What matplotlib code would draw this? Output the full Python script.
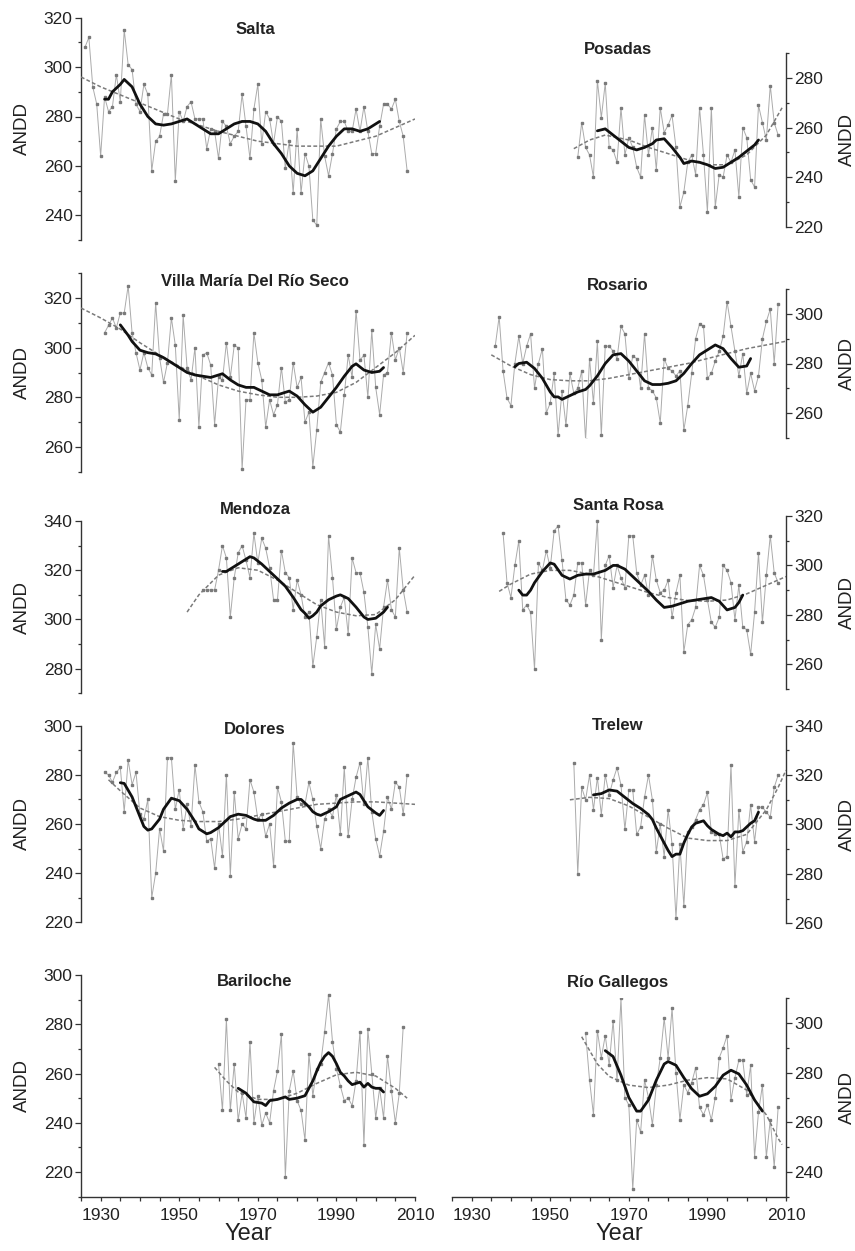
import matplotlib
matplotlib.use("Agg")
from matplotlib import pyplot as plt
from matplotlib.ticker import MultipleLocator

plt.rcParams['font.family'] = ['Liberation Sans', 'DejaVu Sans']

# ---- annual ANDD values (first year + consecutive values) ----
salta_start = 1926
salta_vals = [308, 312, 292, 285, 264, 288, 282, 284, 297, 286, 315, 301, 299, 285, 282, 293, 289, 258, 270, 272,
              281, 281, 297, 254, 282, 278, 284, 286, 279, 279, 279, 267, 275, 274, 263, 278, 276, 269, 272, 274,
              289, 276, 263, 283, 293, 269, 282, 279, 269, 280, 278, 259, 270, 249, 275, 249, 265, 260, 238, 236,
              279, 264, 256, 265, 275, 278, 278, 274, 274, 283, 274, 284, 274, 265, 265, 276, 285, 285, 283, 287,
              278, 272, 258]
salta_smooth_x = [1931, 1932, 1933, 1935, 1936, 1938, 1940, 1942, 1944, 1946, 1948, 1950, 1952, 1954, 1956, 1958,
                  1960, 1962, 1964, 1966, 1968, 1970, 1972, 1974, 1976, 1978, 1980, 1982, 1984, 1986, 1988, 1990,
                  1992, 1994, 1996, 1998, 2000, 2001]
salta_smooth_y = [287, 287, 290, 293, 295, 292, 285, 280, 277, 276.5, 277, 278, 279, 277, 275, 273,
                  273, 275, 277, 278, 278, 277, 274, 269, 265, 260, 257, 256, 258, 263, 268, 272,
                  275, 275, 274, 275, 277, 278]
salta_trend_x = [1925, 1930, 1940, 1950, 1960, 1970, 1980, 1990, 2000, 2010]
salta_trend_y = [296, 292, 285.5, 279, 274, 270, 268, 268, 272, 279]

posadas_start = 1957
posadas_vals = [248, 262, 252, 249, 240, 279, 264, 278, 252, 251, 246, 268, 249, 256, 252, 244, 240, 265, 249, 260,
                243, 268, 258, 261, 265, 252, 228, 234, 246, 249, 241, 268, 249, 226, 268, 228, 241, 240, 249, 246,
                251, 232, 260, 256, 239, 236, 269, 262, 255, 277, 262, 257]
posadas_smooth_x = [1962, 1964, 1966, 1968, 1970, 1972, 1974, 1976, 1977, 1979, 1981, 1983, 1984, 1986, 1988,
                    1990, 1992, 1994, 1996, 1998, 2000, 2002, 2003]
posadas_smooth_y = [258.7, 259.5, 257, 254.5, 252, 251, 252, 253.5, 255, 255.5, 252, 248, 245.5, 246.5, 246,
                    245, 243.5, 244, 246, 248, 250.5, 253, 255]
posadas_trend_x = [1956, 1960, 1964, 1970, 1975, 1980, 1985, 1990, 1995, 2000, 2005, 2009]
posadas_trend_y = [251.5, 255, 257, 255, 252, 249.5, 247, 245, 245, 249, 257, 268]

villa_start = 1931
villa_vals = [306, 309, 312, 308, 314, 314, 325, 306, 298, 291, 298, 292, 289, 318, 296, 286, 294, 312, 301, 271,
              313, 292, 287, 300, 268, 297, 298, 293, 269, 288, 287, 302, 288, 301, 300, 251, 279, 279, 306, 294,
              287, 268, 279, 273, 277, 292, 278, 279, 294, 284, 288, 270, 274, 252, 267, 286, 290, 294, 289, 269,
              266, 281, 297, 288, 315, 295, 297, 280, 307, 284, 273, 289, 290, 306, 295, 300, 290, 306]
villa_smooth_x = [1935, 1937, 1938, 1940, 1942, 1944, 1946, 1948, 1950, 1952, 1954, 1956, 1958, 1960, 1961,
                  1963, 1965, 1967, 1969, 1971, 1973, 1975, 1977, 1978, 1980, 1982, 1984, 1986, 1988, 1990,
                  1992, 1994, 1995, 1997, 1999, 2001, 2002]
villa_smooth_y = [309.2, 305, 302.5, 299, 298, 297.5, 296, 294, 292, 290, 289, 288.5, 288, 289, 289.5,
                  287, 285, 284, 284, 282.5, 281, 281, 282, 282.5, 280.5, 277, 274, 276, 280, 284,
                  288.5, 292.5, 293.5, 291, 290, 290.5, 292]
villa_trend_x = [1925, 1930, 1935, 1940, 1945, 1950, 1955, 1960, 1965, 1970, 1975, 1980, 1985, 1990, 1995, 2000,
                 2005, 2010]
villa_trend_y = [316, 312, 307.5, 302, 297, 292.5, 288.5, 285, 282.5, 281, 280, 280, 280.5, 282, 286, 292, 298, 305]

rosario_start = 1936
rosario_vals = [287, 299, 277, 266, 263, 280, 291, 280, 287, 292, 270, 280, 286, 260, 264, 276, 251, 269, 255, 276,
                268, 270, 277, 249, 282, 264, 289, 251, 287, 287, 285, 282, 295, 292, 274, 283, 282, 270, 292, 270,
                269, 266, 256, 282, 278, 277, 275, 277, 253, 263, 276, 290, 296, 295, 274, 276, 281, 285, 291, 305,
                295, 285, 275, 284, 268, 276, 269, 275, 290, 297, 302, 280, 304]
rosario_smooth_x = [1941, 1942, 1944, 1946, 1948, 1950, 1951, 1952, 1953, 1955, 1957, 1959, 1960, 1962, 1964,
                    1966, 1968, 1970, 1972, 1974, 1976, 1978, 1980, 1982, 1984, 1986, 1988, 1990, 1992, 1994,
                    1996, 1998, 2000, 2001]
rosario_smooth_y = [278.7, 280, 280.5, 278, 274, 268.5, 266.5, 266.5, 265.5, 267, 268.5, 269.5, 271, 275, 280,
                    283.5, 284, 281, 277, 273, 271.5, 271.5, 272, 273, 276, 280, 283.5, 285.5, 287.5, 286,
                    282, 278.5, 279, 282]
rosario_trend_x = [1935, 1940, 1945, 1950, 1955, 1960, 1965, 1970, 1975, 1980, 1985, 1990, 1995, 2000, 2005, 2010]
rosario_trend_y = [283.5, 279, 275.5, 273.5, 273, 273, 274, 275.5, 277, 278.5, 280, 282, 284, 286, 287.5, 289]

mendoza_start = 1956
mendoza_vals = [312, 312, 312, 312, 320, 330, 325, 301, 317, 327, 330, 324, 317, 335, 323, 333, 329, 321, 308, 308,
                328, 319, 317, 304, 316, 310, 301, 303, 281, 293, 308, 289, 334, 317, 296, 305, 309, 294, 325, 319,
                319, 311, 297, 278, 298, 288, 305, 316, 304, 301, 329, 312, 303]
mendoza_smooth_x = [1961, 1962, 1964, 1966, 1968, 1969, 1971, 1973, 1975, 1977, 1979, 1981, 1982, 1983, 1984,
                    1985, 1986, 1988, 1990, 1991, 1993, 1995, 1997, 1998, 2000, 2002, 2003]
mendoza_smooth_y = [319.5, 319.5, 321.5, 323.5, 325.5, 325, 322.5, 319.5, 316.5, 313.5, 309, 304, 302.5, 300.5,
                    301.5, 303, 305.5, 308, 309.5, 310, 308.5, 305, 301, 300, 300.5, 303, 305]
mendoza_trend_x = [1952, 1955, 1960, 1965, 1970, 1975, 1980, 1985, 1990, 1995, 2000, 2005, 2010]
mendoza_trend_y = [303, 310, 318, 321, 320, 316, 311, 306, 303, 301.5, 302, 308, 318]

santarosa_start = 1938
santarosa_vals = [313, 293, 287, 300, 310, 282, 284, 281, 258, 301, 298, 306, 299, 314, 316, 302, 286, 284, 288, 301,
                  301, 284, 298, 296, 318, 270, 300, 304, 291, 300, 295, 291, 312, 312, 297, 292, 296, 288, 304, 294,
                  289, 290, 294, 279, 289, 296, 265, 276, 278, 283, 300, 296, 286, 277, 275, 279, 300, 298, 293, 278,
                  292, 275, 274, 264, 281, 305, 277, 296, 312, 297, 293]
santarosa_smooth_x = [1942, 1943, 1944, 1945, 1946, 1948, 1950, 1951, 1953, 1955, 1957, 1959, 1961, 1963, 1964,
                      1966, 1967, 1969, 1971, 1973, 1975, 1977, 1979, 1981, 1983, 1985, 1987, 1989, 1991, 1993,
                      1995, 1997, 1998, 1999]
santarosa_smooth_y = [290, 288, 288, 290, 293, 297.5, 301, 300.5, 296, 294.5, 296, 296.5, 296.5, 297.5, 298,
                      300, 300, 298.5, 295.5, 292.5, 289.5, 286, 283, 283.5, 284.5, 285.5, 286, 286.5, 287, 285.5,
                      282, 283, 285, 288]
santarosa_trend_x = [1937, 1940, 1945, 1950, 1955, 1960, 1965, 1970, 1975, 1980, 1985, 1990, 1995, 2000, 2005, 2010]
santarosa_trend_y = [289.5, 292.5, 296.5, 298, 298, 296.5, 294, 291.5, 289, 287, 285.8, 285.5, 286, 288.5, 292, 295.5]

dolores_start = 1931
dolores_vals = [281, 280, 277, 281, 283, 265, 286, 276, 281, 264, 262, 270, 230, 240, 258, 249, 287, 287, 266, 274,
                258, 268, 259, 284, 269, 265, 253, 254, 242, 260, 247, 280, 239, 273, 254, 260, 258, 278, 273, 262,
                264, 255, 260, 243, 275, 269, 253, 253, 293, 271, 268, 268, 277, 270, 259, 250, 262, 266, 263, 272,
                256, 283, 255, 270, 279, 285, 268, 287, 265, 254, 247, 257, 271, 266, 277, 275, 264, 280]
dolores_smooth_x = [1935, 1936, 1938, 1940, 1941, 1942, 1943, 1944, 1945, 1946, 1948, 1949, 1950, 1952, 1954,
                    1955, 1956, 1957, 1958, 1959, 1960, 1961, 1962, 1963, 1965, 1967, 1969, 1970, 1972, 1974,
                    1976, 1978, 1980, 1981, 1983, 1984, 1985, 1986, 1988, 1990, 1991, 1993, 1995, 1996, 1998,
                    2000, 2001, 2002]
dolores_smooth_y = [276.8, 276.5, 271, 263, 259, 257.5, 258, 260, 262, 266, 270.5, 270, 269.5, 266, 261,
                    258, 257, 256, 256.5, 257.5, 258.5, 260, 261.5, 263, 264, 263.5, 262, 261.5, 261.5, 263.5,
                    266.5, 268.5, 270, 270, 267, 265, 264, 263.5, 265, 267, 270, 271.5, 273, 272, 267,
                    264.5, 263.5, 265.5]
dolores_trend_x = [1932, 1935, 1940, 1945, 1950, 1955, 1960, 1965, 1970, 1975, 1980, 1985, 1990, 1995, 2000, 2005,
                   2010]
dolores_trend_y = [278, 273.5, 266.5, 263, 261.5, 261, 261, 262, 263.5, 265, 266.5, 268, 268.5, 269, 269, 268.5, 268]

trelew_start = 1956
trelew_vals = [325, 280, 315, 310, 320, 306, 319, 304, 320, 312, 318, 323, 316, 298, 314, 314, 296, 299, 311, 320,
               310, 289, 300, 287, 306, 292, 262, 292, 267, 297, 299, 302, 306, 308, 313, 297, 296, 296, 286, 287,
               324, 275, 306, 289, 293, 308, 293, 307, 307, 305, 303, 315, 320]
trelew_smooth_x = [1961, 1963, 1965, 1967, 1969, 1971, 1973, 1975, 1976, 1977, 1978, 1979, 1980, 1981, 1982,
                   1983, 1984, 1985, 1986, 1987, 1988, 1989, 1990, 1991, 1992, 1993, 1994, 1995, 1996, 1997,
                   1998, 1999, 2000, 2001, 2002, 2003]
trelew_smooth_y = [312, 312.5, 314, 313.5, 311, 308.5, 306.5, 304, 302, 298.5, 295.5, 292.5, 289.5, 287, 288,
                   288, 292.5, 296, 299, 300.5, 301, 301.5, 299.5, 298, 297, 296, 295.5, 296.5, 295, 297,
                   297, 297.5, 299, 300.5, 301.5, 305]
trelew_trend_x = [1955, 1960, 1965, 1970, 1975, 1980, 1985, 1990, 1995, 2000, 2005, 2008, 2010]
trelew_trend_y = [310, 311, 310.5, 307.5, 303, 298.5, 294.5, 293.5, 293.5, 296, 306, 315, 322]

bariloche_start = 1960
bariloche_vals = [264, 245, 282, 245, 264, 241, 252, 242, 273, 240, 251, 239, 244, 240, 253, 261, 276, 218, 253, 261,
                  249, 245, 233, 268, 251, 262, 264, 277, 292, 273, 262, 255, 249, 250, 247, 257, 277, 231, 278, 260,
                  242, 254, 242, 267, 253, 240, 252, 279]
bariloche_smooth_x = [1965, 1967, 1969, 1971, 1972, 1973, 1975, 1977, 1978, 1980, 1981, 1982, 1983, 1984, 1985,
                      1986, 1987, 1988, 1989, 1990, 1991, 1992, 1993, 1994, 1995, 1996, 1997, 1998, 1999, 2000,
                      2001, 2002]
bariloche_smooth_y = [254, 252, 248.5, 248, 247, 249, 249.5, 250.5, 249.5, 250, 250.5, 251, 254, 257, 261,
                      264.5, 267, 268.5, 267, 264, 260.5, 259, 257, 255.5, 256, 256.5, 254.5, 256, 254.5, 254,
                      254, 252.5]
bariloche_trend_x = [1959, 1962, 1965, 1970, 1975, 1980, 1985, 1990, 1995, 2000, 2005, 2008]
bariloche_trend_y = [262.5, 257, 252.5, 249.5, 249.5, 252, 256, 259.5, 260.5, 259, 254, 250]

gallegos_start = 1959
gallegos_vals = [296, 277, 263, 297, 286, 295, 283, 301, 277, 310, 270, 267, 233, 261, 256, 277, 270, 259, 275, 286,
                 302, 286, 306, 280, 261, 275, 272, 276, 282, 266, 263, 267, 261, 270, 286, 290, 295, 269, 278, 285,
                 285, 271, 283, 246, 264, 275, 246, 261, 242, 266]
gallegos_smooth_x = [1964, 1966, 1968, 1970, 1972, 1973, 1975, 1977, 1979, 1980, 1982, 1984, 1986, 1988, 1990,
                     1992, 1994, 1996, 1998, 2000, 2002, 2004]
gallegos_smooth_y = [288.9, 286.5, 279, 270, 264.5, 264.5, 269, 277, 283.5, 284.5, 283, 278, 273.5, 270.5, 271.5,
                     274.5, 279, 281, 279.5, 275, 269, 264.5]
gallegos_trend_x = [1958, 1960, 1962, 1965, 1970, 1975, 1980, 1985, 1990, 1995, 2000, 2005, 2008, 2009]
gallegos_trend_y = [294.5, 289, 283.5, 278.5, 275, 274, 275, 277, 278, 277.5, 273, 263, 253.5, 251]

stations = [
    ("Salta", salta_start, salta_vals, salta_smooth_x, salta_smooth_y, salta_trend_x, salta_trend_y),
    ("Posadas", posadas_start, posadas_vals, posadas_smooth_x, posadas_smooth_y, posadas_trend_x, posadas_trend_y),
    ("Villa María Del Río Seco", villa_start, villa_vals, villa_smooth_x, villa_smooth_y, villa_trend_x, villa_trend_y),
    ("Rosario", rosario_start, rosario_vals, rosario_smooth_x, rosario_smooth_y, rosario_trend_x, rosario_trend_y),
    ("Mendoza", mendoza_start, mendoza_vals, mendoza_smooth_x, mendoza_smooth_y, mendoza_trend_x, mendoza_trend_y),
    ("Santa Rosa", santarosa_start, santarosa_vals, santarosa_smooth_x, santarosa_smooth_y,
     santarosa_trend_x, santarosa_trend_y),
    ("Dolores", dolores_start, dolores_vals, dolores_smooth_x, dolores_smooth_y, dolores_trend_x, dolores_trend_y),
    ("Trelew", trelew_start, trelew_vals, trelew_smooth_x, trelew_smooth_y, trelew_trend_x, trelew_trend_y),
    ("Bariloche", bariloche_start, bariloche_vals, bariloche_smooth_x, bariloche_smooth_y,
     bariloche_trend_x, bariloche_trend_y),
    ("Río Gallegos", gallegos_start, gallegos_vals, gallegos_smooth_x, gallegos_smooth_y,
     gallegos_trend_x, gallegos_trend_y),
]

# ---- layout (pixels, top-left origin) ----
W, H = 855, 1251
# (ytop, ybottom, ymin, ymax, first labelled tick, last labelled tick, title y)
layout = [
    (17.7, 240.0, 230, 320, 240, 320, 29),
    (53.3, 226.7, 220, 290, 220, 280, 50),
    (273.3, 471.7, 250, 330, 260, 320, 282),
    (289.3, 437.7, 250, 310, 260, 300, 285),
    (521.0, 693.3, 270, 340, 280, 340, 510),
    (516.0, 689.0, 250, 320, 260, 320, 505),
    (725.7, 922.3, 220, 300, 220, 300, 729),
    (725.7, 923.3, 260, 340, 260, 340, 726),
    (975.0, 1196.7, 210, 300, 220, 300, 982),
    (998.3, 1196.7, 230, 310, 240, 300, 982),
]
col_x = [(81, 415), (452, 786)]
title_x = [255, 618]

fig = plt.figure(figsize=(W / 100, H / 100), dpi=100)
txt = '#222222'

for i, (name, start, vals, sx, sy, tx, ty) in enumerate(stations):
    col = i % 2
    last_row = i >= 8
    ytop, ybot, ymin, ymax, t0, t1, title_y = layout[i]
    x0, x1 = col_x[col]
    ax = fig.add_axes([x0 / W, 1 - ybot / H, (x1 - x0) / W, (ybot - ytop) / H])
    ax.patch.set_alpha(0)

    years = list(range(start, start + len(vals)))
    ax.plot(years, vals, color='#ababab', lw=0.7, marker='s', ms=1.8,
            mfc='#7a7a7a', mec='#7a7a7a', zorder=2)
    ax.plot(tx, ty, color='#7a7a7a', lw=1.1, dashes=(2.5, 1.5), zorder=3)
    ax.plot(sx, sy, color='#111111', lw=2.0, solid_capstyle='round', zorder=4)

    ax.set_xlim(1925, 2010)
    ax.set_ylim(ymin, ymax)
    ax.set_yticks(list(range(t0, t1 + 1, 20)))
    ax.yaxis.set_minor_locator(MultipleLocator(10))

    for s in ['top', 'left', 'right', 'bottom']:
        ax.spines[s].set_visible(False)
    side = 'left' if col == 0 else 'right'
    ax.spines[side].set_visible(True)
    ax.spines[side].set_color('#333333')
    ax.spines[side].set_linewidth(1.0)
    if col == 1:
        ax.yaxis.tick_right()
    ax.tick_params(axis='y', which='major', length=4, width=0.9, pad=2,
                   labelsize=12.5, colors='#333333', labelcolor=txt)
    ax.tick_params(axis='y', which='minor', length=2.5, width=0.9, colors='#333333')

    if last_row:
        ax.spines['bottom'].set_visible(True)
        ax.spines['bottom'].set_color('#333333')
        ax.spines['bottom'].set_linewidth(1.0)
        ax.set_xticks([1930, 1950, 1970, 1990, 2010])
        ax.xaxis.set_minor_locator(MultipleLocator(5))
        ax.tick_params(axis='x', which='both', length=3, width=0.9, pad=5,
                       labelsize=12.5, colors='#333333', labelcolor=txt)
        fig.text((x0 + x1) / 2 / W, 1 - 1234 / H, 'Year', ha='center', va='center',
                 fontsize=17, color=txt)
    else:
        ax.set_xticks([])
        ax.xaxis.set_minor_locator(MultipleLocator(100))
        ax.tick_params(axis='x', which='both', length=0)

    ylab_x = 22 if col == 0 else 847
    fig.text(ylab_x / W, 1 - (ytop + ybot) / 2 / H, 'ANDD', rotation=90, ha='center', va='center',
             fontsize=13.5, color=txt)
    fig.text(title_x[col] / W, 1 - title_y / H, name, ha='center', va='center',
             fontsize=12, fontweight='bold', color=txt)

fig.savefig('out.png', dpi=100)
